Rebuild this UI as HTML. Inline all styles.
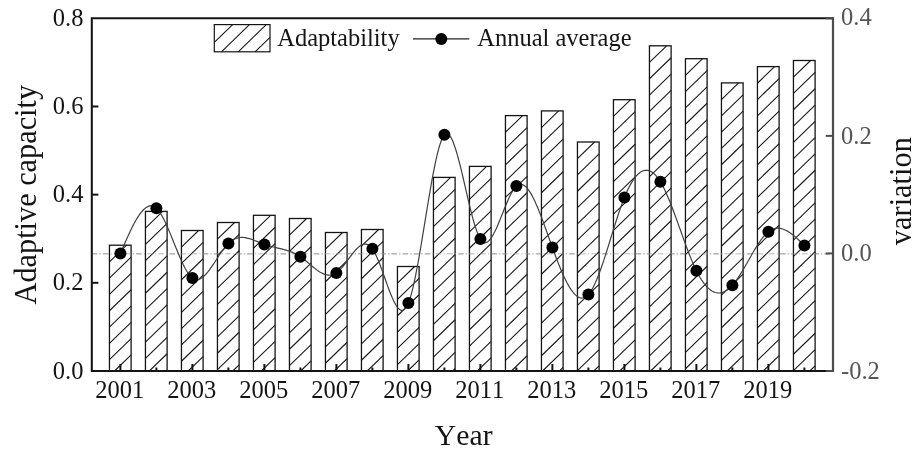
<!DOCTYPE html>
<html><head><meta charset="utf-8"><title>chart</title>
<style>html,body{margin:0;padding:0;background:#fff}body{width:920px;height:454px;overflow:hidden}svg{display:block;will-change:transform}text{font-family:"Liberation Serif",serif;font-kerning:none;font-variant-ligatures:none}</style></head><body>
<svg width="920" height="454" viewBox="0 0 920 454">
<rect x="0" y="0" width="920" height="454" fill="#fff"/>
<line x1="91.8" y1="253.85" x2="833.0" y2="253.85" stroke="#a0a0a0" stroke-width="0.75" stroke-dasharray="5.5 2.2 1.2 2.2"/>
<rect x="109.45" y="245.20" width="21.65" height="125.80" fill="#fff" stroke="none"/>
<path d="M109.45 261.85L126.61 245.20M109.45 278.15L131.10 257.15M109.45 294.45L131.10 273.45M109.45 310.75L131.10 289.75M109.45 327.05L131.10 306.05M109.45 343.35L131.10 322.35M109.45 359.65L131.10 338.65M114.55 371.00L131.10 354.95" stroke="#1a1a1a" stroke-width="1.1" fill="none"/>
<rect x="109.45" y="245.20" width="21.65" height="125.80" fill="none" stroke="#141414" stroke-width="1.3"/>
<rect x="145.45" y="211.40" width="21.65" height="159.60" fill="#fff" stroke="none"/>
<path d="M145.45 228.05L162.61 211.40M145.45 244.35L167.10 223.35M145.45 260.65L167.10 239.65M145.45 276.95L167.10 255.95M145.45 293.25L167.10 272.25M145.45 309.55L167.10 288.55M145.45 325.85L167.10 304.85M145.45 342.15L167.10 321.15M145.45 358.45L167.10 337.45M149.32 371.00L167.10 353.75M166.12 371.00L167.10 370.05" stroke="#1a1a1a" stroke-width="1.1" fill="none"/>
<rect x="145.45" y="211.40" width="21.65" height="159.60" fill="none" stroke="#141414" stroke-width="1.3"/>
<rect x="181.45" y="230.50" width="21.65" height="140.50" fill="#fff" stroke="none"/>
<path d="M181.45 247.15L198.61 230.50M181.45 263.45L203.10 242.45M181.45 279.75L203.10 258.75M181.45 296.05L203.10 275.05M181.45 312.35L203.10 291.35M181.45 328.65L203.10 307.65M181.45 344.95L203.10 323.95M181.45 361.25L203.10 340.25M188.20 371.00L203.10 356.55" stroke="#1a1a1a" stroke-width="1.1" fill="none"/>
<rect x="181.45" y="230.50" width="21.65" height="140.50" fill="none" stroke="#141414" stroke-width="1.3"/>
<rect x="217.45" y="222.50" width="21.65" height="148.50" fill="#fff" stroke="none"/>
<path d="M217.45 239.15L234.61 222.50M217.45 255.45L239.10 234.45M217.45 271.75L239.10 250.75M217.45 288.05L239.10 267.05M217.45 304.35L239.10 283.35M217.45 320.65L239.10 299.65M217.45 336.95L239.10 315.95M217.45 353.25L239.10 332.25M217.45 369.55L239.10 348.55M232.76 371.00L239.10 364.85" stroke="#1a1a1a" stroke-width="1.1" fill="none"/>
<rect x="217.45" y="222.50" width="21.65" height="148.50" fill="none" stroke="#141414" stroke-width="1.3"/>
<rect x="253.45" y="215.30" width="21.65" height="155.70" fill="#fff" stroke="none"/>
<path d="M253.45 231.95L270.61 215.30M253.45 248.25L275.10 227.25M253.45 264.55L275.10 243.55M253.45 280.85L275.10 259.85M253.45 297.15L275.10 276.15M253.45 313.45L275.10 292.45M253.45 329.75L275.10 308.75M253.45 346.05L275.10 325.05M253.45 362.35L275.10 341.35M261.34 371.00L275.10 357.65" stroke="#1a1a1a" stroke-width="1.1" fill="none"/>
<rect x="253.45" y="215.30" width="21.65" height="155.70" fill="none" stroke="#141414" stroke-width="1.3"/>
<rect x="289.45" y="218.50" width="21.65" height="152.50" fill="#fff" stroke="none"/>
<path d="M289.45 235.15L306.61 218.50M289.45 251.45L311.10 230.45M289.45 267.75L311.10 246.75M289.45 284.05L311.10 263.05M289.45 300.35L311.10 279.35M289.45 316.65L311.10 295.65M289.45 332.95L311.10 311.95M289.45 349.25L311.10 328.25M289.45 365.55L311.10 344.55M300.64 371.00L311.10 360.85" stroke="#1a1a1a" stroke-width="1.1" fill="none"/>
<rect x="289.45" y="218.50" width="21.65" height="152.50" fill="none" stroke="#141414" stroke-width="1.3"/>
<rect x="325.45" y="232.50" width="21.65" height="138.50" fill="#fff" stroke="none"/>
<path d="M325.45 249.15L342.61 232.50M325.45 265.45L347.10 244.45M325.45 281.75L347.10 260.75M325.45 298.05L347.10 277.05M325.45 314.35L347.10 293.35M325.45 330.65L347.10 309.65M325.45 346.95L347.10 325.95M325.45 363.25L347.10 342.25M334.26 371.00L347.10 358.55" stroke="#1a1a1a" stroke-width="1.1" fill="none"/>
<rect x="325.45" y="232.50" width="21.65" height="138.50" fill="none" stroke="#141414" stroke-width="1.3"/>
<rect x="361.45" y="229.50" width="21.65" height="141.50" fill="#fff" stroke="none"/>
<path d="M361.45 246.15L378.61 229.50M361.45 262.45L383.10 241.45M361.45 278.75L383.10 257.75M361.45 295.05L383.10 274.05M361.45 311.35L383.10 290.35M361.45 327.65L383.10 306.65M361.45 343.95L383.10 322.95M361.45 360.25L383.10 339.25M367.17 371.00L383.10 355.55" stroke="#1a1a1a" stroke-width="1.1" fill="none"/>
<rect x="361.45" y="229.50" width="21.65" height="141.50" fill="none" stroke="#141414" stroke-width="1.3"/>
<rect x="397.45" y="266.50" width="21.65" height="104.50" fill="#fff" stroke="none"/>
<path d="M397.45 283.15L414.61 266.50M397.45 299.45L419.10 278.45M397.45 315.75L419.10 294.75M397.45 332.05L419.10 311.05M397.45 348.35L419.10 327.35M397.45 364.65L419.10 343.65M407.71 371.00L419.10 359.95" stroke="#1a1a1a" stroke-width="1.1" fill="none"/>
<rect x="397.45" y="266.50" width="21.65" height="104.50" fill="none" stroke="#141414" stroke-width="1.3"/>
<rect x="433.45" y="177.40" width="21.65" height="193.60" fill="#fff" stroke="none"/>
<path d="M433.45 194.05L450.61 177.40M433.45 210.35L455.10 189.35M433.45 226.65L455.10 205.65M433.45 242.95L455.10 221.95M433.45 259.25L455.10 238.25M433.45 275.55L455.10 254.55M433.45 291.85L455.10 270.85M433.45 308.15L455.10 287.15M433.45 324.45L455.10 303.45M433.45 340.75L455.10 319.75M433.45 357.05L455.10 336.05M435.87 371.00L455.10 352.35M452.68 371.00L455.10 368.65" stroke="#1a1a1a" stroke-width="1.1" fill="none"/>
<rect x="433.45" y="177.40" width="21.65" height="193.60" fill="none" stroke="#141414" stroke-width="1.3"/>
<rect x="469.45" y="166.40" width="21.65" height="204.60" fill="#fff" stroke="none"/>
<path d="M469.45 183.05L486.61 166.40M469.45 199.35L491.10 178.35M469.45 215.65L491.10 194.65M469.45 231.95L491.10 210.95M469.45 248.25L491.10 227.25M469.45 264.55L491.10 243.55M469.45 280.85L491.10 259.85M469.45 297.15L491.10 276.15M469.45 313.45L491.10 292.45M469.45 329.75L491.10 308.75M469.45 346.05L491.10 325.05M469.45 362.35L491.10 341.35M477.34 371.00L491.10 357.65" stroke="#1a1a1a" stroke-width="1.1" fill="none"/>
<rect x="469.45" y="166.40" width="21.65" height="204.60" fill="none" stroke="#141414" stroke-width="1.3"/>
<rect x="505.45" y="115.60" width="21.65" height="255.40" fill="#fff" stroke="none"/>
<path d="M505.45 132.25L522.61 115.60M505.45 148.55L527.10 127.55M505.45 164.85L527.10 143.85M505.45 181.15L527.10 160.15M505.45 197.45L527.10 176.45M505.45 213.75L527.10 192.75M505.45 230.05L527.10 209.05M505.45 246.35L527.10 225.35M505.45 262.65L527.10 241.65M505.45 278.95L527.10 257.95M505.45 295.25L527.10 274.25M505.45 311.55L527.10 290.55M505.45 327.85L527.10 306.85M505.45 344.15L527.10 323.15M505.45 360.45L527.10 339.45M511.38 371.00L527.10 355.75" stroke="#1a1a1a" stroke-width="1.1" fill="none"/>
<rect x="505.45" y="115.60" width="21.65" height="255.40" fill="none" stroke="#141414" stroke-width="1.3"/>
<rect x="541.45" y="110.90" width="21.65" height="260.10" fill="#fff" stroke="none"/>
<path d="M541.45 127.55L558.61 110.90M541.45 143.85L563.10 122.85M541.45 160.15L563.10 139.15M541.45 176.45L563.10 155.45M541.45 192.75L563.10 171.75M541.45 209.05L563.10 188.05M541.45 225.35L563.10 204.35M541.45 241.65L563.10 220.65M541.45 257.95L563.10 236.95M541.45 274.25L563.10 253.25M541.45 290.55L563.10 269.55M541.45 306.85L563.10 285.85M541.45 323.15L563.10 302.15M541.45 339.45L563.10 318.45M541.45 355.75L563.10 334.75M542.53 371.00L563.10 351.05M559.34 371.00L563.10 367.35" stroke="#1a1a1a" stroke-width="1.1" fill="none"/>
<rect x="541.45" y="110.90" width="21.65" height="260.10" fill="none" stroke="#141414" stroke-width="1.3"/>
<rect x="577.45" y="142.00" width="21.65" height="229.00" fill="#fff" stroke="none"/>
<path d="M577.45 158.65L594.61 142.00M577.45 174.95L599.10 153.95M577.45 191.25L599.10 170.25M577.45 207.55L599.10 186.55M577.45 223.85L599.10 202.85M577.45 240.15L599.10 219.15M577.45 256.45L599.10 235.45M577.45 272.75L599.10 251.75M577.45 289.05L599.10 268.05M577.45 305.35L599.10 284.35M577.45 321.65L599.10 300.65M577.45 337.95L599.10 316.95M577.45 354.25L599.10 333.25M577.45 370.55L599.10 349.55M593.79 371.00L599.10 365.85" stroke="#1a1a1a" stroke-width="1.1" fill="none"/>
<rect x="577.45" y="142.00" width="21.65" height="229.00" fill="none" stroke="#141414" stroke-width="1.3"/>
<rect x="613.45" y="99.70" width="21.65" height="271.30" fill="#fff" stroke="none"/>
<path d="M613.45 116.35L630.61 99.70M613.45 132.65L635.10 111.65M613.45 148.95L635.10 127.95M613.45 165.25L635.10 144.25M613.45 181.55L635.10 160.55M613.45 197.85L635.10 176.85M613.45 214.15L635.10 193.15M613.45 230.45L635.10 209.45M613.45 246.75L635.10 225.75M613.45 263.05L635.10 242.05M613.45 279.35L635.10 258.35M613.45 295.65L635.10 274.65M613.45 311.95L635.10 290.95M613.45 328.25L635.10 307.25M613.45 344.55L635.10 323.55M613.45 360.85L635.10 339.85M619.79 371.00L635.10 356.15" stroke="#1a1a1a" stroke-width="1.1" fill="none"/>
<rect x="613.45" y="99.70" width="21.65" height="271.30" fill="none" stroke="#141414" stroke-width="1.3"/>
<rect x="649.45" y="45.80" width="21.65" height="325.20" fill="#fff" stroke="none"/>
<path d="M649.45 62.45L666.61 45.80M649.45 78.75L671.10 57.75M649.45 95.05L671.10 74.05M649.45 111.35L671.10 90.35M649.45 127.65L671.10 106.65M649.45 143.95L671.10 122.95M649.45 160.25L671.10 139.25M649.45 176.55L671.10 155.55M649.45 192.85L671.10 171.85M649.45 209.15L671.10 188.15M649.45 225.45L671.10 204.45M649.45 241.75L671.10 220.75M649.45 258.05L671.10 237.05M649.45 274.35L671.10 253.35M649.45 290.65L671.10 269.65M649.45 306.95L671.10 285.95M649.45 323.25L671.10 302.25M649.45 339.55L671.10 318.55M649.45 355.85L671.10 334.85M650.64 371.00L671.10 351.15M667.44 371.00L671.10 367.45" stroke="#1a1a1a" stroke-width="1.1" fill="none"/>
<rect x="649.45" y="45.80" width="21.65" height="325.20" fill="none" stroke="#141414" stroke-width="1.3"/>
<rect x="685.45" y="58.70" width="21.65" height="312.30" fill="#fff" stroke="none"/>
<path d="M685.45 75.35L702.61 58.70M685.45 91.65L707.10 70.65M685.45 107.95L707.10 86.95M685.45 124.25L707.10 103.25M685.45 140.55L707.10 119.55M685.45 156.85L707.10 135.85M685.45 173.15L707.10 152.15M685.45 189.45L707.10 168.45M685.45 205.75L707.10 184.75M685.45 222.05L707.10 201.05M685.45 238.35L707.10 217.35M685.45 254.65L707.10 233.65M685.45 270.95L707.10 249.95M685.45 287.25L707.10 266.25M685.45 303.55L707.10 282.55M685.45 319.85L707.10 298.85M685.45 336.15L707.10 315.15M685.45 352.45L707.10 331.45M685.45 368.75L707.10 347.75M699.93 371.00L707.10 364.05" stroke="#1a1a1a" stroke-width="1.1" fill="none"/>
<rect x="685.45" y="58.70" width="21.65" height="312.30" fill="none" stroke="#141414" stroke-width="1.3"/>
<rect x="721.45" y="82.90" width="21.65" height="288.10" fill="#fff" stroke="none"/>
<path d="M721.45 99.55L738.61 82.90M721.45 115.85L743.10 94.85M721.45 132.15L743.10 111.15M721.45 148.45L743.10 127.45M721.45 164.75L743.10 143.75M721.45 181.05L743.10 160.05M721.45 197.35L743.10 176.35M721.45 213.65L743.10 192.65M721.45 229.95L743.10 208.95M721.45 246.25L743.10 225.25M721.45 262.55L743.10 241.55M721.45 278.85L743.10 257.85M721.45 295.15L743.10 274.15M721.45 311.45L743.10 290.45M721.45 327.75L743.10 306.75M721.45 344.05L743.10 323.05M721.45 360.35L743.10 339.35M727.27 371.00L743.10 355.65" stroke="#1a1a1a" stroke-width="1.1" fill="none"/>
<rect x="721.45" y="82.90" width="21.65" height="288.10" fill="none" stroke="#141414" stroke-width="1.3"/>
<rect x="757.45" y="66.60" width="21.65" height="304.40" fill="#fff" stroke="none"/>
<path d="M757.45 83.25L774.61 66.60M757.45 99.55L779.10 78.55M757.45 115.85L779.10 94.85M757.45 132.15L779.10 111.15M757.45 148.45L779.10 127.45M757.45 164.75L779.10 143.75M757.45 181.05L779.10 160.05M757.45 197.35L779.10 176.35M757.45 213.65L779.10 192.65M757.45 229.95L779.10 208.95M757.45 246.25L779.10 225.25M757.45 262.55L779.10 241.55M757.45 278.85L779.10 257.85M757.45 295.15L779.10 274.15M757.45 311.45L779.10 290.45M757.45 327.75L779.10 306.75M757.45 344.05L779.10 323.05M757.45 360.35L779.10 339.35M763.27 371.00L779.10 355.65" stroke="#1a1a1a" stroke-width="1.1" fill="none"/>
<rect x="757.45" y="66.60" width="21.65" height="304.40" fill="none" stroke="#141414" stroke-width="1.3"/>
<rect x="793.45" y="60.50" width="21.65" height="310.50" fill="#fff" stroke="none"/>
<path d="M793.45 77.15L810.61 60.50M793.45 93.45L815.10 72.45M793.45 109.75L815.10 88.75M793.45 126.05L815.10 105.05M793.45 142.35L815.10 121.35M793.45 158.65L815.10 137.65M793.45 174.95L815.10 153.95M793.45 191.25L815.10 170.25M793.45 207.55L815.10 186.55M793.45 223.85L815.10 202.85M793.45 240.15L815.10 219.15M793.45 256.45L815.10 235.45M793.45 272.75L815.10 251.75M793.45 289.05L815.10 268.05M793.45 305.35L815.10 284.35M793.45 321.65L815.10 300.65M793.45 337.95L815.10 316.95M793.45 354.25L815.10 333.25M793.45 370.55L815.10 349.55M809.79 371.00L815.10 365.85" stroke="#1a1a1a" stroke-width="1.1" fill="none"/>
<rect x="793.45" y="60.50" width="21.65" height="310.50" fill="none" stroke="#141414" stroke-width="1.3"/>
<line x1="91.8" y1="253.85" x2="833.0" y2="253.85" stroke="#a0a0a0" stroke-width="0.75" stroke-dasharray="5.5 2.2 1.2 2.2"/>
<path d="M120.40 253.40L121.54 250.74L122.68 248.08L123.83 245.44L124.97 242.81L126.11 240.22L127.25 237.67L128.39 235.16L129.54 232.71L130.68 230.31L131.82 227.98L132.96 225.73L134.10 223.55L135.24 221.47L136.39 219.49L137.53 217.60L138.67 215.83L139.81 214.18L140.95 212.66L142.10 211.27L143.24 210.02L144.38 208.92L145.52 207.98L146.66 207.20L147.81 206.60L148.95 206.17L150.09 205.93L151.23 205.88L152.37 206.04L153.52 206.40L154.66 206.98L155.80 207.78L156.94 208.82L158.08 210.08L159.22 211.56L160.37 213.23L161.51 215.08L162.65 217.10L163.79 219.27L164.93 221.58L166.08 224.01L167.22 226.54L168.36 229.17L169.50 231.87L170.64 234.63L171.79 237.43L172.93 240.26L174.07 243.11L175.21 245.96L176.35 248.78L177.50 251.58L178.64 254.33L179.78 257.02L180.92 259.62L182.06 262.14L183.20 264.55L184.35 266.83L185.49 268.97L186.63 270.96L187.77 272.78L188.91 274.41L190.06 275.85L191.20 277.07L192.34 278.05L193.48 278.80L194.62 279.31L195.77 279.59L196.91 279.67L198.05 279.54L199.19 279.22L200.33 278.73L201.48 278.07L202.62 277.25L203.76 276.29L204.90 275.21L206.04 274.00L207.18 272.69L208.33 271.28L209.47 269.79L210.61 268.22L211.75 266.60L212.89 264.92L214.04 263.21L215.18 261.48L216.32 259.73L217.46 257.98L218.60 256.23L219.75 254.52L220.89 252.83L222.03 251.19L223.17 249.60L224.31 248.09L225.46 246.65L226.60 245.31L227.74 244.07L228.88 242.94L230.02 241.93L231.16 241.04L232.31 240.26L233.45 239.59L234.59 239.02L235.73 238.54L236.87 238.16L238.02 237.86L239.16 237.65L240.30 237.51L241.44 237.45L242.58 237.45L243.73 237.52L244.87 237.65L246.01 237.83L247.15 238.07L248.29 238.34L249.44 238.66L250.58 239.02L251.72 239.40L252.86 239.81L254.00 240.25L255.14 240.70L256.29 241.16L257.43 241.63L258.57 242.11L259.71 242.58L260.85 243.04L262.00 243.50L263.14 243.94L264.28 244.36L265.42 244.75L266.56 245.12L267.71 245.47L268.85 245.80L269.99 246.12L271.13 246.42L272.27 246.71L273.42 246.99L274.56 247.26L275.70 247.53L276.84 247.80L277.98 248.07L279.12 248.34L280.27 248.61L281.41 248.89L282.55 249.18L283.69 249.49L284.83 249.81L285.98 250.14L287.12 250.49L288.26 250.87L289.40 251.27L290.54 251.69L291.69 252.15L292.83 252.63L293.97 253.15L295.11 253.70L296.25 254.29L297.39 254.93L298.54 255.60L299.68 256.32L300.82 257.09L301.96 257.90L303.10 258.76L304.25 259.64L305.39 260.56L306.53 261.50L307.67 262.45L308.81 263.41L309.96 264.38L311.10 265.34L312.24 266.29L313.38 267.23L314.52 268.14L315.67 269.03L316.81 269.88L317.95 270.69L319.09 271.46L320.23 272.17L321.37 272.82L322.52 273.40L323.66 273.92L324.80 274.35L325.94 274.70L327.08 274.96L328.23 275.12L329.37 275.18L330.51 275.13L331.65 274.97L332.79 274.68L333.94 274.26L335.08 273.71L336.22 273.02L337.36 272.19L338.50 271.21L339.65 270.12L340.79 268.92L341.93 267.63L343.07 266.25L344.21 264.81L345.35 263.32L346.50 261.80L347.64 260.25L348.78 258.69L349.92 257.14L351.06 255.61L352.21 254.12L353.35 252.67L354.49 251.29L355.63 249.98L356.77 248.77L357.92 247.66L359.06 246.67L360.20 245.82L361.34 245.11L362.48 244.57L363.63 244.20L364.77 244.02L365.91 244.05L367.05 244.30L368.19 244.78L369.33 245.51L370.48 246.50L371.62 247.77L372.76 249.32L373.90 251.17L375.04 253.28L376.19 255.63L377.33 258.18L378.47 260.91L379.61 263.79L380.75 266.80L381.90 269.91L383.04 273.08L384.18 276.29L385.32 279.51L386.46 282.72L387.61 285.89L388.75 288.98L389.89 291.98L391.03 294.84L392.17 297.55L393.31 300.08L394.46 302.40L395.60 304.48L396.74 306.29L397.88 307.80L399.02 309.00L400.17 309.84L401.31 310.30L402.45 310.36L403.59 309.98L404.73 309.15L405.88 307.82L407.02 305.97L408.16 303.58L409.30 300.61L410.44 297.10L411.59 293.09L412.73 288.60L413.87 283.68L415.01 278.38L416.15 272.72L417.29 266.76L418.44 260.53L419.58 254.07L420.72 247.42L421.86 240.61L423.00 233.70L424.15 226.72L425.29 219.71L426.43 212.71L427.57 205.75L428.71 198.89L429.86 192.15L431.00 185.59L432.14 179.23L433.28 173.12L434.42 167.30L435.57 161.81L436.71 156.69L437.85 151.98L438.99 147.71L440.13 143.93L441.27 140.68L442.42 137.99L443.56 135.92L444.70 134.49L445.84 133.72L446.98 133.58L448.13 134.04L449.27 135.05L450.41 136.58L451.55 138.60L452.69 141.06L453.84 143.93L454.98 147.18L456.12 150.76L457.26 154.64L458.40 158.78L459.55 163.15L460.69 167.71L461.83 172.42L462.97 177.24L464.11 182.15L465.25 187.09L466.40 192.04L467.54 196.96L468.68 201.82L469.82 206.56L470.96 211.17L472.11 215.60L473.25 219.81L474.39 223.77L475.53 227.44L476.67 230.79L477.82 233.78L478.96 236.36L480.10 238.51L481.24 240.19L482.38 241.41L483.53 242.19L484.67 242.56L485.81 242.53L486.95 242.15L488.09 241.42L489.23 240.38L490.38 239.05L491.52 237.45L492.66 235.62L493.80 233.57L494.94 231.33L496.09 228.92L497.23 226.38L498.37 223.72L499.51 220.97L500.65 218.15L501.80 215.30L502.94 212.42L504.08 209.56L505.22 206.73L506.36 203.96L507.51 201.27L508.65 198.70L509.79 196.25L510.93 193.97L512.07 191.87L513.21 189.97L514.36 188.31L515.50 186.91L516.64 185.79L517.78 184.97L518.92 184.43L520.07 184.18L521.21 184.19L522.35 184.47L523.49 184.98L524.63 185.74L525.78 186.72L526.92 187.91L528.06 189.31L529.20 190.89L530.34 192.67L531.49 194.61L532.63 196.71L533.77 198.96L534.91 201.36L536.05 203.88L537.19 206.51L538.34 209.26L539.48 212.10L540.62 215.02L541.76 218.02L542.90 221.09L544.05 224.20L545.19 227.36L546.33 230.55L547.47 233.76L548.61 236.99L549.76 240.21L550.90 243.41L552.04 246.60L553.18 249.75L554.32 252.87L555.47 255.93L556.61 258.94L557.75 261.89L558.89 264.77L560.03 267.58L561.17 270.31L562.32 272.95L563.46 275.50L564.60 277.94L565.74 280.28L566.88 282.51L568.03 284.61L569.17 286.59L570.31 288.44L571.45 290.14L572.59 291.70L573.74 293.10L574.88 294.35L576.02 295.42L577.16 296.33L578.30 297.05L579.45 297.59L580.59 297.94L581.73 298.08L582.87 298.02L584.01 297.75L585.15 297.26L586.30 296.54L587.44 295.59L588.58 294.40L589.72 292.96L590.86 291.30L592.01 289.42L593.15 287.34L594.29 285.06L595.43 282.60L596.57 279.97L597.72 277.18L598.86 274.25L600.00 271.19L601.14 268.02L602.28 264.73L603.43 261.35L604.57 257.89L605.71 254.36L606.85 250.77L607.99 247.14L609.13 243.48L610.28 239.79L611.42 236.10L612.56 232.41L613.70 228.74L614.84 225.11L615.99 221.51L617.13 217.97L618.27 214.49L619.41 211.10L620.55 207.79L621.70 204.59L622.84 201.51L623.98 198.55L625.12 195.74L626.26 193.07L627.41 190.55L628.55 188.18L629.69 185.95L630.83 183.87L631.97 181.93L633.11 180.15L634.26 178.51L635.40 177.02L636.54 175.67L637.68 174.48L638.82 173.43L639.97 172.53L641.11 171.78L642.25 171.18L643.39 170.73L644.53 170.43L645.68 170.28L646.82 170.27L647.96 170.42L649.10 170.72L650.24 171.16L651.38 171.76L652.53 172.51L653.67 173.41L654.81 174.46L655.95 175.67L657.09 177.02L658.24 178.53L659.38 180.19L660.52 182.00L661.66 183.96L662.80 186.06L663.95 188.30L665.09 190.66L666.23 193.14L667.37 195.73L668.51 198.42L669.66 201.19L670.80 204.05L671.94 206.98L673.08 209.97L674.22 213.02L675.36 216.12L676.51 219.25L677.65 222.41L678.79 225.59L679.93 228.78L681.07 231.98L682.22 235.17L683.36 238.34L684.50 241.49L685.64 244.60L686.78 247.68L687.93 250.70L689.07 253.66L690.21 256.56L691.35 259.38L692.49 262.11L693.64 264.75L694.78 267.29L695.92 269.71L697.06 272.02L698.20 274.20L699.34 276.26L700.49 278.19L701.63 280.01L702.77 281.70L703.91 283.27L705.05 284.72L706.20 286.05L707.34 287.26L708.48 288.36L709.62 289.33L710.76 290.20L711.91 290.94L713.05 291.57L714.19 292.08L715.33 292.48L716.47 292.77L717.62 292.94L718.76 293.01L719.90 292.96L721.04 292.79L722.18 292.52L723.32 292.14L724.47 291.65L725.61 291.06L726.75 290.35L727.89 289.54L729.03 288.62L730.18 287.60L731.32 286.47L732.46 285.23L733.60 283.90L734.74 282.46L735.89 280.94L737.03 279.34L738.17 277.67L739.31 275.92L740.45 274.12L741.60 272.27L742.74 270.37L743.88 268.43L745.02 266.47L746.16 264.48L747.30 262.47L748.45 260.46L749.59 258.45L750.73 256.44L751.87 254.45L753.01 252.48L754.16 250.54L755.30 248.63L756.44 246.77L757.58 244.96L758.72 243.20L759.87 241.52L761.01 239.90L762.15 238.36L763.29 236.92L764.43 235.56L765.58 234.31L766.72 233.17L767.86 232.14L769.00 231.24L770.14 230.46L771.28 229.81L772.43 229.27L773.57 228.85L774.71 228.53L775.85 228.32L776.99 228.21L778.14 228.20L779.28 228.28L780.42 228.45L781.56 228.70L782.70 229.04L783.85 229.45L784.99 229.94L786.13 230.49L787.27 231.11L788.41 231.79L789.56 232.52L790.70 233.31L791.84 234.15L792.98 235.03L794.12 235.95L795.26 236.91L796.41 237.90L797.55 238.92L798.69 239.96L799.83 241.03L800.97 242.10L802.12 243.20L803.26 244.30L804.40 245.40" fill="none" stroke="#404040" stroke-width="1.2" stroke-linejoin="round"/>
<circle cx="120.40" cy="253.40" r="6" fill="#000"/>
<circle cx="156.40" cy="208.30" r="6" fill="#000"/>
<circle cx="192.40" cy="278.10" r="6" fill="#000"/>
<circle cx="228.40" cy="243.40" r="6" fill="#000"/>
<circle cx="264.40" cy="244.40" r="6" fill="#000"/>
<circle cx="300.40" cy="256.80" r="6" fill="#000"/>
<circle cx="336.40" cy="272.90" r="6" fill="#000"/>
<circle cx="372.40" cy="248.80" r="6" fill="#000"/>
<circle cx="408.40" cy="303.00" r="6" fill="#000"/>
<circle cx="444.40" cy="134.80" r="6" fill="#000"/>
<circle cx="480.40" cy="239.00" r="6" fill="#000"/>
<circle cx="516.40" cy="186.00" r="6" fill="#000"/>
<circle cx="552.40" cy="247.60" r="6" fill="#000"/>
<circle cx="588.40" cy="294.60" r="6" fill="#000"/>
<circle cx="624.40" cy="197.50" r="6" fill="#000"/>
<circle cx="660.40" cy="181.80" r="6" fill="#000"/>
<circle cx="696.40" cy="270.70" r="6" fill="#000"/>
<circle cx="732.40" cy="285.30" r="6" fill="#000"/>
<circle cx="768.40" cy="231.70" r="6" fill="#000"/>
<circle cx="804.40" cy="245.40" r="6" fill="#000"/>
<line x1="91.8" y1="282.82" x2="98.39999999999999" y2="282.82" stroke="#141414" stroke-width="2"/>
<line x1="91.8" y1="194.65" x2="98.39999999999999" y2="194.65" stroke="#141414" stroke-width="2"/>
<line x1="91.8" y1="106.48" x2="98.39999999999999" y2="106.48" stroke="#141414" stroke-width="2"/>
<line x1="120.40" y1="371.0" x2="120.40" y2="364.0" stroke="#141414" stroke-width="2"/>
<line x1="156.40" y1="371.0" x2="156.40" y2="367.5" stroke="#141414" stroke-width="2"/>
<line x1="192.40" y1="371.0" x2="192.40" y2="364.0" stroke="#141414" stroke-width="2"/>
<line x1="228.40" y1="371.0" x2="228.40" y2="367.5" stroke="#141414" stroke-width="2"/>
<line x1="264.40" y1="371.0" x2="264.40" y2="364.0" stroke="#141414" stroke-width="2"/>
<line x1="300.40" y1="371.0" x2="300.40" y2="367.5" stroke="#141414" stroke-width="2"/>
<line x1="336.40" y1="371.0" x2="336.40" y2="364.0" stroke="#141414" stroke-width="2"/>
<line x1="372.40" y1="371.0" x2="372.40" y2="367.5" stroke="#141414" stroke-width="2"/>
<line x1="408.40" y1="371.0" x2="408.40" y2="364.0" stroke="#141414" stroke-width="2"/>
<line x1="444.40" y1="371.0" x2="444.40" y2="367.5" stroke="#141414" stroke-width="2"/>
<line x1="480.40" y1="371.0" x2="480.40" y2="364.0" stroke="#141414" stroke-width="2"/>
<line x1="516.40" y1="371.0" x2="516.40" y2="367.5" stroke="#141414" stroke-width="2"/>
<line x1="552.40" y1="371.0" x2="552.40" y2="364.0" stroke="#141414" stroke-width="2"/>
<line x1="588.40" y1="371.0" x2="588.40" y2="367.5" stroke="#141414" stroke-width="2"/>
<line x1="624.40" y1="371.0" x2="624.40" y2="364.0" stroke="#141414" stroke-width="2"/>
<line x1="660.40" y1="371.0" x2="660.40" y2="367.5" stroke="#141414" stroke-width="2"/>
<line x1="696.40" y1="371.0" x2="696.40" y2="364.0" stroke="#141414" stroke-width="2"/>
<line x1="732.40" y1="371.0" x2="732.40" y2="367.5" stroke="#141414" stroke-width="2"/>
<line x1="768.40" y1="371.0" x2="768.40" y2="364.0" stroke="#141414" stroke-width="2"/>
<line x1="804.40" y1="371.0" x2="804.40" y2="367.5" stroke="#141414" stroke-width="2"/>
<path d="M833.0 18.3L91.8 18.3L91.8 371.0L833.0 371.0" fill="none" stroke="#141414" stroke-width="2.05" stroke-linejoin="miter" stroke-linecap="square"/>
<line x1="833.0" y1="17.2" x2="833.0" y2="372.1" stroke="#4c4c4c" stroke-width="2.2"/>
<line x1="825.8" y1="371.00" x2="833.0" y2="371.00" stroke="#4c4c4c" stroke-width="2"/>
<line x1="825.8" y1="253.43" x2="833.0" y2="253.43" stroke="#4c4c4c" stroke-width="2"/>
<line x1="825.8" y1="135.87" x2="833.0" y2="135.87" stroke="#4c4c4c" stroke-width="2"/>
<line x1="825.8" y1="18.30" x2="833.0" y2="18.30" stroke="#4c4c4c" stroke-width="2"/>
<text x="83.4" y="378.60" font-size="24.5" text-anchor="end" fill="#141414">0.0</text>
<text x="83.4" y="290.43" font-size="24.5" text-anchor="end" fill="#141414">0.2</text>
<text x="83.4" y="202.25" font-size="24.5" text-anchor="end" fill="#141414">0.4</text>
<text x="83.4" y="114.08" font-size="24.5" text-anchor="end" fill="#141414">0.6</text>
<text x="83.4" y="25.90" font-size="24.5" text-anchor="end" fill="#141414">0.8</text>
<text x="841.0" y="378.65" font-size="24.5" text-anchor="start" fill="#555">-0.2</text>
<text x="841.0" y="261.08" font-size="24.5" text-anchor="start" fill="#555">0.0</text>
<text x="841.0" y="143.52" font-size="24.5" text-anchor="start" fill="#555">0.2</text>
<text x="841.0" y="25.40" font-size="24.5" text-anchor="start" fill="#555">0.4</text>
<text x="119.80" y="398" font-size="24.5" text-anchor="middle" fill="#141414">2001</text>
<text x="191.80" y="398" font-size="24.5" text-anchor="middle" fill="#141414">2003</text>
<text x="263.80" y="398" font-size="24.5" text-anchor="middle" fill="#141414">2005</text>
<text x="335.80" y="398" font-size="24.5" text-anchor="middle" fill="#141414">2007</text>
<text x="407.80" y="398" font-size="24.5" text-anchor="middle" fill="#141414">2009</text>
<text x="479.80" y="398" font-size="24.5" text-anchor="middle" fill="#141414">2011</text>
<text x="551.80" y="398" font-size="24.5" text-anchor="middle" fill="#141414">2013</text>
<text x="623.80" y="398" font-size="24.5" text-anchor="middle" fill="#141414">2015</text>
<text x="695.80" y="398" font-size="24.5" text-anchor="middle" fill="#141414">2017</text>
<text x="767.80" y="398" font-size="24.5" text-anchor="middle" fill="#141414">2019</text>
<text x="463.7" y="444.5" font-size="29.7" text-anchor="middle" fill="#141414">Year</text>
<text transform="translate(35.6 194.7) rotate(-90) scale(1 1.03)" font-size="30.3" text-anchor="middle" fill="#141414">Adaptive capacity</text>
<text transform="translate(910.8 191.15) rotate(-90) scale(1 1.03)" font-size="30.4" text-anchor="middle" fill="#141414">variation</text>
<rect x="214.3" y="24.6" width="55.70" height="27.20" fill="#fff"/>
<path d="M214.30 42.40L232.65 24.60M221.41 51.80L249.45 24.60M238.22 51.80L266.26 24.60M255.02 51.80L270.00 37.27" stroke="#1a1a1a" stroke-width="1.1" fill="none"/>
<rect x="214.3" y="24.6" width="55.70" height="27.20" fill="none" stroke="#141414" stroke-width="1.2"/>
<text x="277.2" y="46.3" font-size="24.5" fill="#141414">Adaptability</text>
<line x1="413" y1="38.9" x2="469.3" y2="38.9" stroke="#222" stroke-width="1.15"/>
<circle cx="441.3" cy="38.9" r="6" fill="#000"/>
<text x="477.2" y="46.0" font-size="24.5" fill="#141414">Annual average</text>
</svg></body></html>
